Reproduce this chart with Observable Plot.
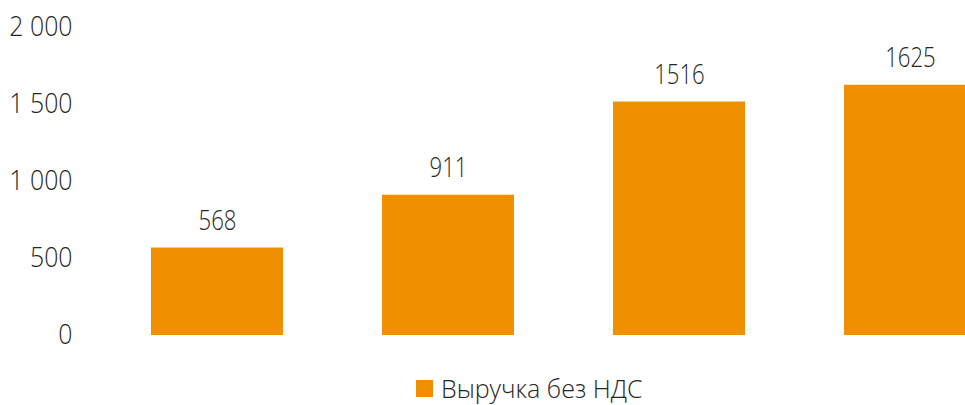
<!DOCTYPE html>
<html>
<head>
<meta charset="utf-8">
<script src="https://cdn.jsdelivr.net/npm/d3@7"></script>
<script src="https://cdn.jsdelivr.net/npm/@observablehq/plot@0.6"></script>
<style>
  html, body { margin: 0; padding: 0; background: #fff; overflow: hidden; width: 965px; height: 405px; }
  #chart { position: relative; width: 965px; height: 405px; font-family: "Segoe UI Light", "Open Sans", sans-serif; }
  #legend { position: absolute; left: 416px; top: 373px; display: flex; align-items: center; line-height: 30px;
            font-size: 25px; font-weight: 300; color: #262626; white-space: nowrap; }
  #legend .sw { width: 17px; height: 17px; margin-right: 8px; flex: none; }
</style>
</head>
<body>
<div id="chart"><div id="plot"></div><div id="legend"></div></div>
<script>
const categories = ["Период 1", "Период 2", "Период 3", "Период 4"];
const revenue = [568, 911, 1516, 1625];
const yTicks = [0, 500, 1000, 1500, 2000];
const seriesName = "Выручка без НДС";
const barColor = "#f08f00";

const data = categories.map((c, i) => ({category: c, value: revenue[i]}));
const fmt = d => d3.format(",")(d).replace(/,/g, "\u00a0");

const plot = Plot.plot({
  width: 965,
  height: 370,
  marginTop: 27,
  marginBottom: 35,
  marginLeft: 80,
  marginRight: 0,
  style: {fontFamily: '"Segoe UI Light", "Open Sans", sans-serif', fontSize: "27px", fontWeight: 300, color: "#262626", background: "transparent"},
  x: {domain: categories, range: [100, 1026], paddingInner: 0.43, paddingOuter: 0.215, axis: null},
  y: {domain: [0, 2000], axis: null},
  marks: [
    Plot.axisY({ticks: yTicks, tickSize: 0, tickPadding: 8, tickFormat: fmt, label: null, fontSize: 27, fill: "#262626"}),
    Plot.barY(data, {x: "category", y: "value", fill: barColor}),
    Plot.text(data, {x: "category", y: "value", text: d => String(d.value), dy: -27, lineAnchor: "middle", fontSize: 27, fill: "#262626"})
  ]
});
document.getElementById("plot").appendChild(plot);

// narrow the glyphs horizontally (light, narrow reference typeface)
function squeeze(selector, s) {
  plot.querySelectorAll(selector + " text").forEach(t => {
    let tr = t.getAttribute("transform") || "";
    const xa = t.getAttribute("x");
    if (xa !== null && /^-?[\d.]+$/.test(xa.trim()) && +xa !== 0) {
      tr += ` translate(${+xa},0)`;
      t.removeAttribute("x");
    }
    t.setAttribute("transform", `${tr} scale(${s},1)`.trim());
  });
}
squeeze('g[aria-label="y-axis tick label"]', 0.92);
squeeze('g[aria-label="text"]', 0.82);

const legend = document.getElementById("legend");
legend.innerHTML = `<div class="sw" style="background:${barColor}"></div><span>${seriesName}</span>`;
</script>
</body>
</html>
